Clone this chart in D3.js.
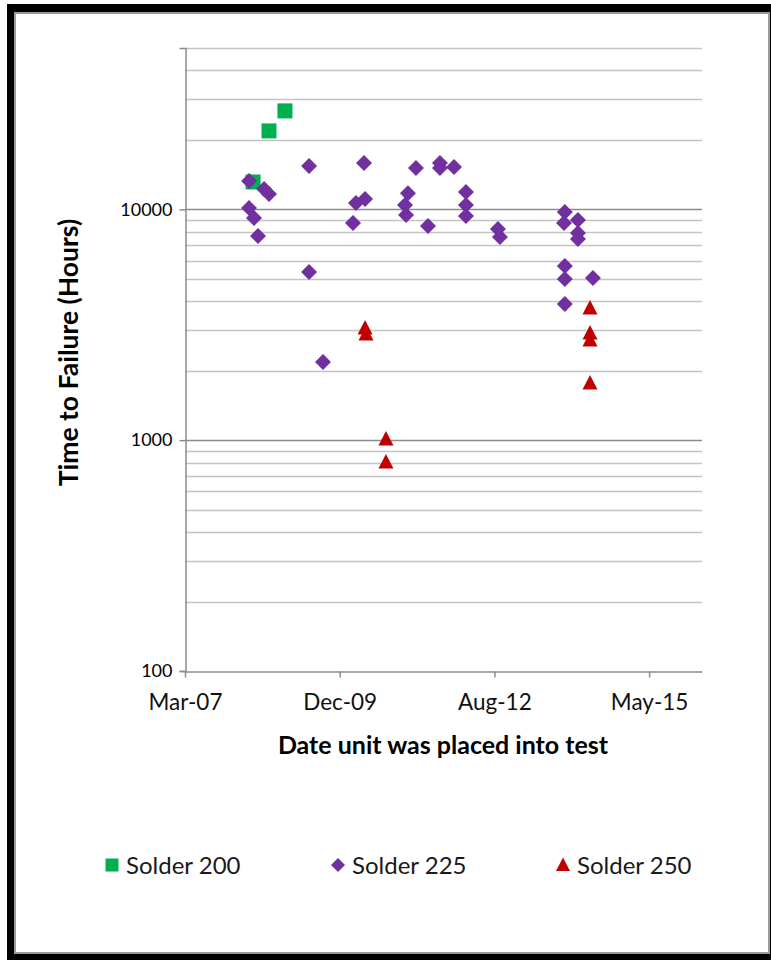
<!DOCTYPE html>
<html>
<head>
<meta charset="utf-8">
<script src="https://cdn.jsdelivr.net/npm/d3@7"></script>
<style>
  html, body { margin: 0; padding: 0; background: #fff; }
  svg { display: block; font-family: Lato, "Open Sans", sans-serif; }
</style>
</head>
<body>
<svg id="chart" width="771" height="960"></svg>
<script>
// ---- data ----
const solder200Dates  = ["2008-05-22","2008-09-02","2008-12-14"];
const solder200Values = [13140, 21870, 26700];

const solder225Dates = [
  "2008-04-26","2008-08-01","2008-09-02","2008-04-26","2008-05-28","2008-06-23",
  "2009-05-19","2009-05-19","2009-08-17","2010-02-27","2010-03-18","2010-05-16",
  "2010-05-09","2011-02-17","2011-01-29","2011-02-05","2011-04-10","2011-06-27",
  "2011-09-12","2011-09-12","2011-12-12","2012-02-27","2012-02-27","2012-02-27",
  "2012-09-21","2012-10-04","2013-11-27","2013-11-22","2014-02-20","2014-02-20",
  "2014-02-20","2013-11-27","2013-11-27","2014-05-28","2013-11-27"
];
const solder225Values = [
  13280, 12260, 11660, 10140, 9180, 7670,
  15420, 5355, 2182, 8733, 10660, 11100,
  15890, 11750, 10450, 9457, 15110, 8476,
  15890, 15110, 15270, 11900, 10450, 9363,
  8227, 7593, 9743, 8733, 8999, 7902,
  7443, 5685, 4994, 5045, 3891
];

const solder250Dates  = ["2010-05-16","2010-05-22","2010-09-28","2010-09-28","2014-05-09","2014-05-09","2014-05-09","2014-05-09"];
const solder250Values = [3063, 2885, 1012, 804, 3739, 2914, 2718, 1769];

const seriesNames  = ["Solder 200", "Solder 225", "Solder 250"];
const seriesColors = ["#00B050", "#7030A0", "#C00000"];

const xDomain     = ["2007-03-09", "2016-05-02"];
const xTickDates  = ["2007-03-09", "2009-12-03", "2012-08-29", "2015-05-26"];
const xTickLabels = ["Mar-07", "Dec-09", "Aug-12", "May-15"];
const yDomain     = [100, 50000];
const yMajorTicks = [100, 1000, 10000];
const yTickLabels = ["100", "1000", "10000"];
const yMinorTicks = [200,300,400,500,600,700,800,900,2000,3000,4000,5000,6000,7000,8000,9000,20000,30000,40000,50000];

const xTitle = "Date unit was placed into test";
const yTitle = "Time to Failure (Hours)";

// ---- drawing ----
const parse = d3.utcParse("%Y-%m-%d");
const svg = d3.select("#chart");

// frame
svg.append("rect").attr("x", 7).attr("y", 4).attr("width", 764).attr("height", 956).attr("fill", "#000");
svg.append("rect").attr("x", 15).attr("y", 13).attr("width", 754).attr("height", 940)
  .attr("fill", "#fff").attr("stroke", "#9a9a9a").attr("stroke-width", 2);

const plot = { left: 185, top: 48, right: 702, bottom: 671 };

const x = d3.scaleUtc().domain(xDomain.map(parse)).range([plot.left, plot.right]);
const y = d3.scaleLog().domain(yDomain).range([plot.bottom, plot.top]);

const g = svg.append("g");

// minor gridlines
g.selectAll("line.minor").data(yMinorTicks).join("line")
  .attr("class", "minor")
  .attr("x1", plot.left).attr("x2", plot.right)
  .attr("y1", d => Math.round(y(d)) + 0.5).attr("y2", d => Math.round(y(d)) + 0.5)
  .attr("stroke", "#c4c4c4").attr("stroke-width", 1.5);

// major gridlines
g.selectAll("line.major").data(yMajorTicks.slice(1)).join("line")
  .attr("class", "major")
  .attr("x1", plot.left).attr("x2", plot.right)
  .attr("y1", d => Math.round(y(d)) + 0.5).attr("y2", d => Math.round(y(d)) + 0.5)
  .attr("stroke", "#8c8c8c").attr("stroke-width", 1.5);

// y axis
const yAxis = d3.axisLeft(y).tickValues(yMajorTicks)
  .tickFormat((d, i) => yTickLabels[i]).tickSize(6).tickPadding(7);
const gy = svg.append("g").attr("transform", `translate(${plot.left + 0.5},0)`).call(yAxis);
gy.select(".domain").attr("stroke", "#8c8c8c").attr("stroke-width", 1.5);
gy.selectAll(".tick line").attr("stroke", "#8c8c8c").attr("stroke-width", 1.5);
gy.selectAll(".tick text").attr("font-size", 18).attr("fill", "#000").attr("font-family", "Lato, sans-serif");

// x axis
const xAxis = d3.axisBottom(x).tickValues(xTickDates.map(parse))
  .tickFormat((d, i) => xTickLabels[i]).tickSize(6).tickSizeOuter(0).tickPadding(17);
const gx = svg.append("g").attr("transform", `translate(0,${plot.bottom + 0.5})`).call(xAxis);
gx.select(".domain").attr("stroke", "#8c8c8c").attr("stroke-width", 1.5);
gx.selectAll(".tick line").attr("stroke", "#8c8c8c").attr("stroke-width", 1.5);
gx.selectAll(".tick text").attr("font-size", 22.5).attr("fill", "#111").attr("font-family", "Lato, sans-serif");

// titles
svg.append("text").attr("x", 443).attr("y", 754).attr("text-anchor", "middle")
  .attr("font-size", 25).attr("font-weight", "bold").attr("fill", "#000").text(xTitle);
svg.append("text").attr("transform", `translate(78,${(plot.top + plot.bottom) / 2 - 7}) rotate(-90)`)
  .attr("text-anchor", "middle").attr("font-size", 26.5).attr("font-weight", "bold").attr("fill", "#000").text(yTitle);

// marker shapes (relative offsets)
const shapes = [
  "M-7.5,-7.5H7.5V7.5H-7.5Z",
  "M0,-8L8,0L0,8L-8,0Z",
  "M0,-8L7.5,6.5L-7.5,6.5Z"
];
const legendShapes = [
  "M-6.5,-6.5H6.5V6.5H-6.5Z",
  "M0,-7L7,0L0,7L-7,0Z",
  "M0,-7.5L7,6L-7,6Z"
];

const series = [
  solder200Dates.map((d, i) => ({ date: parse(d), value: solder200Values[i] })),
  solder225Dates.map((d, i) => ({ date: parse(d), value: solder225Values[i] })),
  solder250Dates.map((d, i) => ({ date: parse(d), value: solder250Values[i] }))
];

series.forEach((pts, si) => {
  svg.append("g").selectAll("path").data(pts).join("path")
    .attr("d", shapes[si])
    .attr("transform", d => `translate(${x(d.date)},${y(d.value)})`)
    .attr("fill", seriesColors[si]);
});

// legend
const legendX = [112, 338, 563];
const lg = svg.append("g");
seriesNames.forEach((name, i) => {
  lg.append("path").attr("d", legendShapes[i])
    .attr("transform", `translate(${legendX[i]},865)`).attr("fill", seriesColors[i]);
  lg.append("text").attr("x", legendX[i] + 14).attr("y", 874)
    .attr("font-size", 24).attr("fill", "#1a1a1a").text(name);
});
</script>
</body>
</html>
